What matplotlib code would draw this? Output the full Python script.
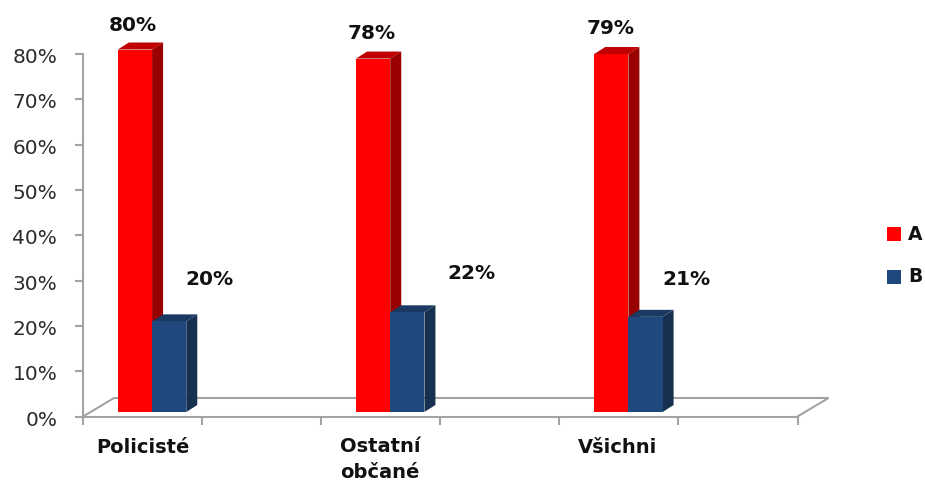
import matplotlib
matplotlib.use("Agg")
import matplotlib.pyplot as plt
from matplotlib.patches import Polygon, Rectangle
from matplotlib.transforms import ScaledTranslation

categories = ["Policisté", "Ostatní\nobčané", "Všichni"]
series_a = [80, 78, 79]
series_b = [20, 22, 21]
series_names = ["A", "B"]
y_ticks = [0, 10, 20, 30, 40, 50, 60, 70, 80]
x_ticks = [0, 1, 2, 3, 4, 5, 6]

W, H = 925, 483
fig = plt.figure(figsize=(W / 100, H / 100), dpi=100, facecolor="white")
x0, x1, y0, y1 = 83, 797.5, 416.5, 54
ax = fig.add_axes([x0 / W, 1 - y0 / H, (x1 - x0) / W, (y0 - y1) / H])
ax.set_xlim(0, 6)
ax.set_ylim(0, 80)
ax.patch.set_visible(False)

px_x = 6 / (x1 - x0)
px_y = 80 / (y0 - y1)
GREY = "#A3A3A3"
LW = 1.5

for s in ["top", "right"]:
    ax.spines[s].set_visible(False)
for s in ["left", "bottom"]:
    ax.spines[s].set_color(GREY)
    ax.spines[s].set_linewidth(LW)

ax.set_yticks(y_ticks)
ax.set_yticklabels([f"{v}%" for v in y_ticks], fontsize=14.5, color="#2b2b2b")
ax.set_xticks(x_ticks)
ax.set_xticklabels([])
ax.tick_params(axis="y", length=5.5, width=LW, color=GREY, pad=13)
ax.tick_params(axis="x", length=5.5, width=LW, color=GREY)
shift_down = ScaledTranslation(0, -1.5 / 100, fig.dpi_scale_trans)
for t in ax.get_yticklabels():
    t.set_transform(t.get_transform() + shift_down)

# floor of the 3D box
fx, fy = 31 * px_x, 18.5 * px_y
ax.plot([0, fx, 6 + fx, 6], [0, fy, fy, 0], color=GREY, lw=LW, clip_on=False,
        solid_joinstyle="miter", zorder=1)

# 3D bars
lift = 4.5 * px_y
dx, dy = 11 * px_x, 7 * px_y
width = 34.2 * px_x
centers = [0.58 + 2 * i for i in range(len(categories))]


def bar3d(left, value, front, top, side):
    right = left + width
    b, t = lift, value + lift
    ax.add_patch(Polygon([(right, b), (right + dx, b + dy), (right + dx, t + dy), (right, t)],
                         closed=True, fc=side, ec="none", clip_on=False, zorder=3))
    ax.add_patch(Polygon([(left, t), (left + dx, t + dy), (right + dx, t + dy), (right, t)],
                         closed=True, fc=top, ec="none", clip_on=False, zorder=3))
    ax.bar(left, value, width=width, bottom=b, align="edge", color=front, clip_on=False, zorder=4)


for c, a, b in zip(centers, series_a, series_b):
    bar3d(c - width, a, "#FF0000", "#C00000", "#990000")
    bar3d(c, b, "#1F497D", "#1A3A63", "#17304F")

# data labels
shift_a = [(-2, 24), (-1, 25), (-1, 26)]
shift_b = [(40, 42), (64, 39), (41, 37)]
lab = dict(fontsize=14.5, fontweight="bold", color="#111111", ha="center", va="center",
           textcoords="offset pixels", annotation_clip=False)
for i, c in enumerate(centers):
    ax.annotate(f"{series_a[i]}%", (c - width / 2, series_a[i] + lift), xytext=shift_a[i], **lab)
    ax.annotate(f"{series_b[i]}%", (c + width / 2, series_b[i] + lift), xytext=shift_b[i], **lab)

# category labels
cat_x = [142.5, 380, 618]
cat_y = [447.5, 459.5, 447.5]
for c, yc, name in zip(cat_x, cat_y, categories):
    fig.text(c / W, 1 - yc / H, name, fontsize=14, fontweight="bold", color="#111111",
             ha="center", va="center", linespacing=1.5)

# legend
for name, col, yc in zip(series_names, ["#FF0000", "#1F497D"], [234, 277]):
    fig.add_artist(Rectangle((887 / W, 1 - (yc + 7) / H), 14 / W, 14 / H, fc=col, ec="none",
                             transform=fig.transFigure))
    fig.text(908 / W, 1 - yc / H, name, fontsize=13.5, fontweight="bold", color="#111111",
             ha="left", va="center")

fig.savefig("out.png", dpi=100)
